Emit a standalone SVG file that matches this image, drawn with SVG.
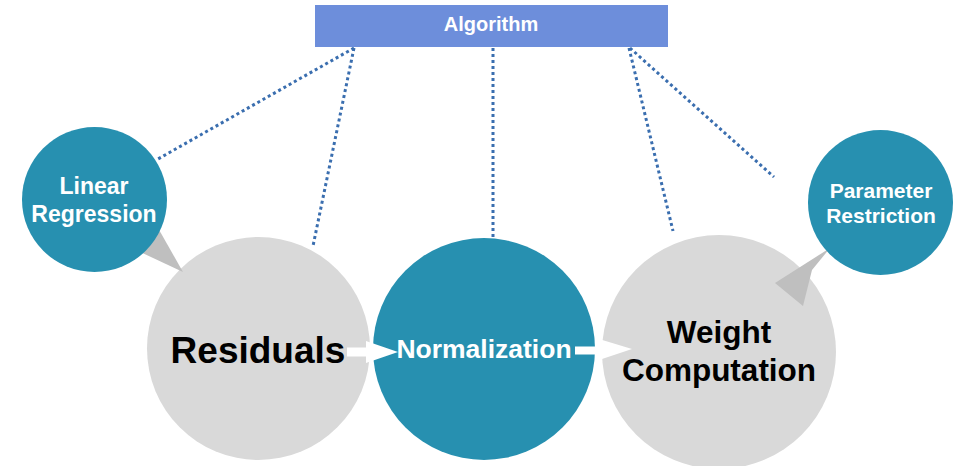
<svg xmlns="http://www.w3.org/2000/svg" width="963" height="466" viewBox="0 0 963 466">
<style>
.teal{fill:#2790B0}
.gray{fill:#D9D9D9}
.wedge{fill:#BFBFBF}
.dot{stroke:#3A6EAF;stroke-width:3;stroke-dasharray:3 3;fill:none}
.arrow{fill:#FFFFFF}
text{font-family:"Liberation Sans",Arial,sans-serif;font-weight:bold;text-anchor:middle}
.w{fill:#FFFFFF}
.b{fill:#000000}
</style>
<rect width="963" height="466" fill="#FFFFFF"/>
<g id="connectors">
<line class="dot" x1="354" y1="48" x2="158" y2="159"/>
<line class="dot" x1="354" y1="48" x2="313" y2="246"/>
<line class="dot" x1="493" y1="48" x2="493" y2="237"/>
<line class="dot" x1="629" y1="48" x2="673" y2="231"/>
<line class="dot" x1="630" y1="48" x2="774" y2="177"/>
</g>
<g id="algorithm">
<rect x="315" y="5" width="353" height="42" fill="#6D8EDB"/>
<text class="w" x="491" y="31" font-size="20">Algorithm</text>
</g>
<g id="residuals">
<circle class="gray" cx="258.5" cy="348.5" r="111.5"/>
<text class="b" x="258" y="363" font-size="37">Residuals</text>
</g>
<g id="normalization">
<circle class="teal" cx="484" cy="349" r="111"/>
<text class="w" x="484" y="358" font-size="26.5">Normalization</text>
</g>
<g id="weight-computation">
<circle class="gray" cx="719" cy="352" r="117"/>
<text class="b" x="719" y="343" font-size="31.5">Weight</text>
<text class="b" x="719" y="381" font-size="31.5">Computation</text>
</g>
<g id="linear-regression">
<polygon class="wedge" points="158,228 183,272 136,250"/>
<circle class="teal" cx="94.5" cy="199.5" r="72.5"/>
<text class="w" x="94" y="194" font-size="23">Linear</text>
<text class="w" x="94" y="222" font-size="23">Regression</text>
</g>
<g id="parameter-restriction">
<polygon class="wedge" points="830,248 775,283 803,306 812,270"/>
<circle class="teal" cx="880.5" cy="202.5" r="72.5"/>
<text class="w" x="881" y="198" font-size="21">Parameter</text>
<text class="w" x="881" y="223" font-size="21">Restriction</text>
</g>
<g id="arrows">
<polygon class="arrow" points="347,347.5 366,347.5 366,341 398,352 366,363 366,356.5 347,356.5"/>
<polygon class="arrow" points="575,346.5 599,346.5 599,339 632,349 599,360 599,354.5 575,354.5"/>
</g>
</svg>
